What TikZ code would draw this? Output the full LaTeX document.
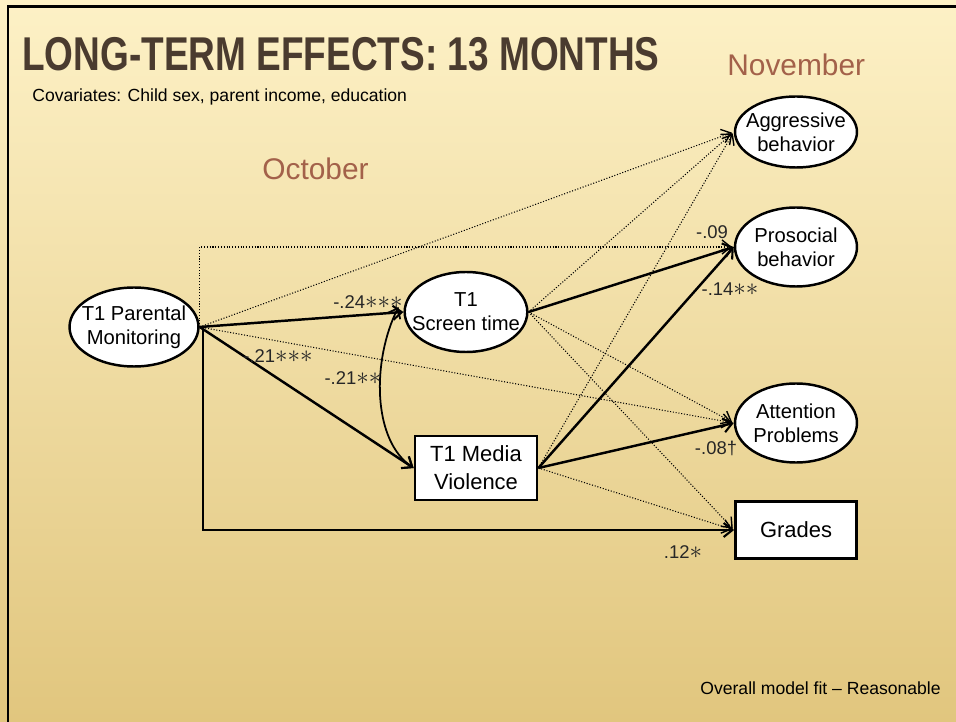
\documentclass[tikz,border=0pt]{standalone}
\usepackage{fontspec}
\setmainfont{Liberation Sans}
\usetikzlibrary{arrows.meta}
\usetikzlibrary{shapes.geometric}
\usetikzlibrary{positioning}
\tikzset{oval/.style = {draw, ellipse, fill=white, line width=1.4pt, inner sep=-6pt,
                        minimum width=2.58cm, minimum height=1.58cm, align=center,
                        font=\fontsize{11.5}{13.8}\selectfont}}
\tikzset{box/.style = {draw, rectangle, fill=white, line width=1.6pt, inner sep=0,
                       minimum width=2.44cm, align=center,
                       font=\fontsize{12.5}{16}\selectfont}}
\tikzset{sig/.style = {line width=1.4pt, -{Straight Barb[length=5pt,width=8pt,line width=1.2pt]}}}
\tikzset{nsig/.style = {line width=0.6pt, densely dotted, -{Straight Barb[length=5pt,width=8pt,line width=0.8pt,sep]}}}
\tikzset{coef/.style = {inner sep=0, font=\fontsize{10.5}{12}\selectfont, text=black!85}}
\newcommand{\st}{\scalebox{1.3}{\(\ast\)}}
\definecolor{titlebrown}{HTML}{4A3B2F}
\definecolor{monthred}{HTML}{A3614A}
\definecolor{slidetop}{HTML}{FDF1C6}
\definecolor{slidemid}{HTML}{F6E2A6}
\definecolor{slidebot}{HTML}{E1C67E}
\begin{document}
\begin{tikzpicture}[x=0.02cm, y=-0.02cm]
    \useasboundingbox (0, 0) rectangle (956, 722);
    \shade [top color=slidetop, middle color=slidemid, bottom color=slidebot] (0, 0) rectangle (956, 722);
    \draw [line width=1.7pt] (8, 722) -- (8, 7) -- (956, 7);

    % titles
    \node [anchor=base west, inner sep=0, text=titlebrown] (title) at (22, 71)
      {\scalebox{0.78}[1]{\fontsize{27}{30}\selectfont\bfseries LONG-TERM EFFECTS: 13 MONTHS}};
    \node [anchor=base west, inner sep=0, font=\fontsize{10}{12}\selectfont] (cov) at (32, 102)
      {Covariates: Child sex, parent income, education};
    \node [anchor=base west, inner sep=0, text=monthred, font=\fontsize{17}{20}\selectfont] (oct) at (262, 180) {October};
    \node [anchor=base west, inner sep=0, text=monthred, font=\fontsize{17}{20}\selectfont] (nov) at (727, 76) {November};
    \node [anchor=base east, inner sep=0, font=\fontsize{10}{12}\selectfont] (fit) at (941, 694)
      {Overall model fit -- Reasonable};

    % predictors
    \node [oval] (pm) at (134, 327) {T1 Parental\\Monitoring};
    \node [oval, minimum width=2.44cm, minimum height=1.6cm] (st) at (466, 312) {T1\\Screen time};
    \node [box, minimum height=1.28cm] (mv) at (476, 468) {T1 Media\\Violence};

    % outcomes
    \node [oval, minimum width=2.44cm, minimum height=1.42cm] (ag) at (796, 132) {Aggressive\\behavior};
    \node [oval, minimum width=2.44cm] (ps) at (796, 247) {Prosocial\\behavior};
    \node [oval, minimum width=2.44cm] (at) at (796, 423) {Attention\\Problems};
    \node [box, minimum width=2.42cm, minimum height=1.14cm] (gr) at (796, 530) {Grades};

    % paths from monitoring
    \draw [nsig] (pm.east) -- (ag.west);
    \draw [nsig] (pm.east) |- (ps.west);
    \draw [nsig] (pm.east) -- (at.west);
    \draw [sig] (pm.east) -- (st.west);
    \draw [sig] (pm.east) -- (mv.west);
    \draw [sig, line width=1.2pt] ([xshift=0.06cm]pm.east) |- (gr.west);
    \draw [{Straight Barb[length=5pt,width=8pt]}-{Straight Barb[length=5pt,width=8pt]}, line width=1pt]
      ([shift={(-0.1cm,0.1cm)}]st.west) .. controls (372, 360) and (372, 440) .. (mv.west);

    % paths from screen time
    \draw [nsig] (st.east) -- (ag.west);
    \draw [nsig] (st.east) -- (at.west);
    \draw [nsig] (st.east) -- (gr.west);
    \draw [sig] (st.east) -- (ps.west);

    % paths from media violence
    \draw [nsig] (mv.east) -- (ag.west);
    \draw [nsig] (mv.east) -- (gr.west);
    \draw [sig] (mv.east) -- (ps.west);
    \draw [sig] (mv.east) -- (at.west);

    % coefficients
    \node [coef] (c1) at (368, 302) {-.24\st\st\st};
    \node [coef] (c2) at (278, 356) {-.21\st\st\st};
    \node [coef] (c3) at (353, 378) {-.21\st\st};
    \node [coef] (c4) at (712, 232) {-.09};
    \node [coef] (c5) at (730, 289) {-.14\st\st};
    \node [coef] (c6) at (716, 448) {-.08\textdagger};
    \node [coef] (c7) at (683, 552) {.12\st};
\end{tikzpicture}
\end{document}
